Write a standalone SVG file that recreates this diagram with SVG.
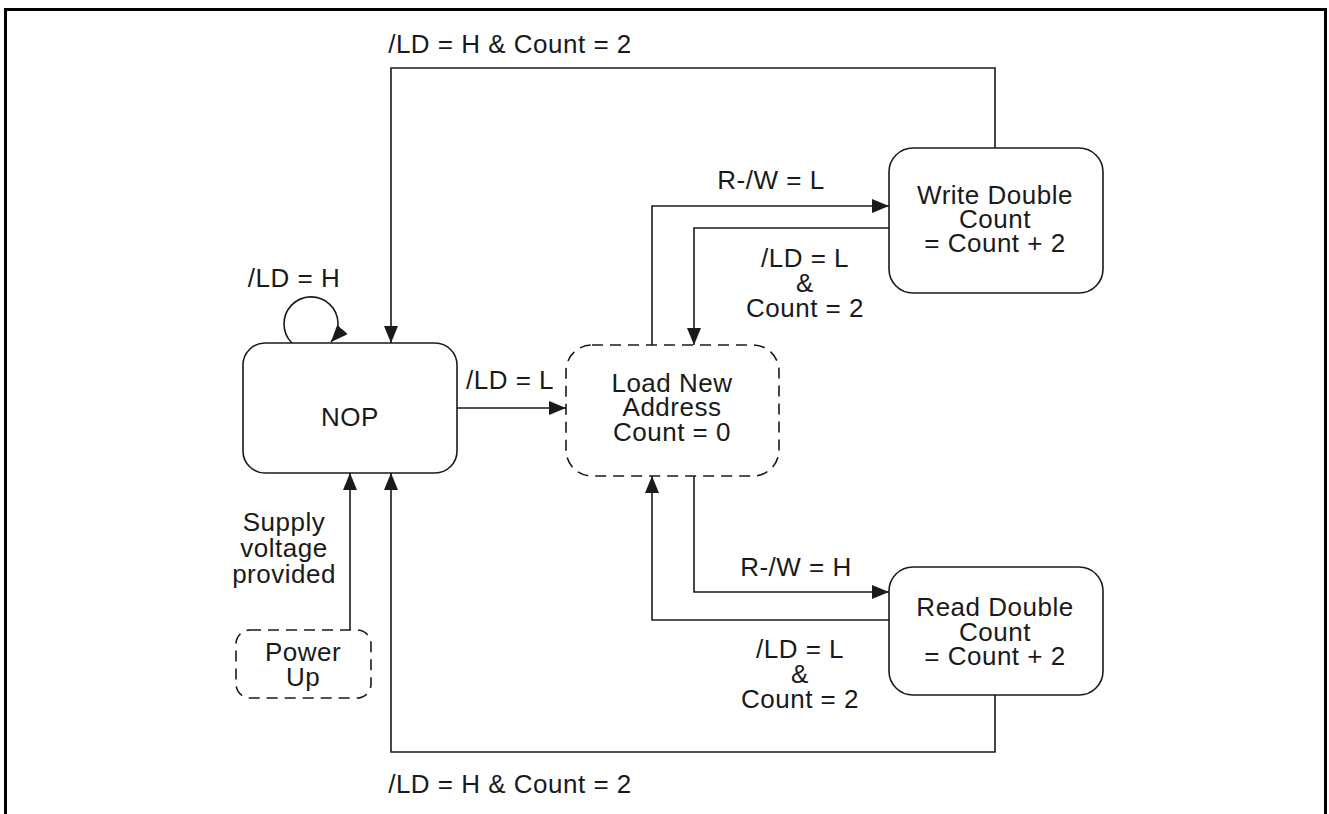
<svg xmlns="http://www.w3.org/2000/svg" width="1329" height="814" viewBox="0 0 1329 814">
<defs>
<marker id="ah" markerWidth="17" markerHeight="14" refX="17" refY="7" orient="auto" markerUnits="userSpaceOnUse"><path d="M0,0 L17,7 L0,14 z" fill="#1a1a1a"/></marker>
<style>
.box{fill:#fff;stroke:#1a1a1a;stroke-width:1.6}
.dash{fill:#fff;stroke:#1a1a1a;stroke-width:1.6;stroke-dasharray:11 7}
.ln{fill:none;stroke:#1a1a1a;stroke-width:1.6}
text{font-family:"Liberation Sans",Arial,sans-serif;font-size:26px;letter-spacing:0.5px;fill:#1a1a1a;text-anchor:middle}
</style>
</defs>
<rect x="0" y="0" width="1329" height="814" fill="#fff"/>
<rect x="5.5" y="9.5" width="1320" height="820" fill="none" stroke="#000" stroke-width="3"/>
<g id="connectors">
<path class="ln" d="M995,148 V68 H391 V343" marker-end="url(#ah)"/>
<path class="ln" d="M292,343 A27,27 0 1 1 331,342" marker-end="url(#ah)"/>
<path class="ln" d="M457,408 H566" marker-end="url(#ah)"/>
<path class="ln" d="M652,345 V206 H889" marker-end="url(#ah)"/>
<path class="ln" d="M889,228 H694 V345" marker-end="url(#ah)"/>
<path class="ln" d="M694,476 V592 H889" marker-end="url(#ah)"/>
<path class="ln" d="M889,620 H652 V476" marker-end="url(#ah)"/>
<path class="ln" d="M995,695 V752 H391 V473" marker-end="url(#ah)"/>
<path class="ln" d="M350,630 V473" marker-end="url(#ah)"/>
<text x="510" y="53">/LD = H &amp; Count = 2</text>
<text x="294" y="287">/LD = H</text>
<text x="510" y="389">/LD = L</text>
<text x="771" y="189">R-/W = L</text>
<text x="805" y="267">/LD = L</text>
<text x="805" y="292">&amp;</text>
<text x="805" y="317">Count = 2</text>
<text x="796" y="576">R-/W = H</text>
<text x="800" y="658">/LD = L</text>
<text x="800" y="683">&amp;</text>
<text x="800" y="708">Count = 2</text>
<text x="510" y="793">/LD = H &amp; Count = 2</text>
<text x="284" y="531">Supply</text>
<text x="284" y="557">voltage</text>
<text x="284" y="583">provided</text>
</g>
<g id="nop">
<rect class="box" x="243" y="343" width="214" height="130" rx="22"/>
<text x="350" y="426">NOP</text>
</g>
<g id="load">
<rect class="dash" x="566" y="345" width="213" height="131" rx="26"/>
<text x="672" y="392">Load New</text>
<text x="672" y="416">Address</text>
<text x="672" y="441">Count = 0</text>
</g>
<g id="write">
<rect class="box" x="889" y="148" width="214" height="145" rx="24"/>
<text x="995" y="204">Write Double</text>
<text x="995" y="228">Count</text>
<text x="995" y="252">= Count + 2</text>
</g>
<g id="read">
<rect class="box" x="889" y="567" width="214" height="128" rx="24"/>
<text x="995" y="616">Read Double</text>
<text x="995" y="641">Count</text>
<text x="995" y="665">= Count + 2</text>
</g>
<g id="powerup">
<rect class="dash" x="236" y="630" width="135" height="68" rx="14"/>
<text x="303" y="661">Power</text>
<text x="303" y="686">Up</text>
</g>
</svg>
